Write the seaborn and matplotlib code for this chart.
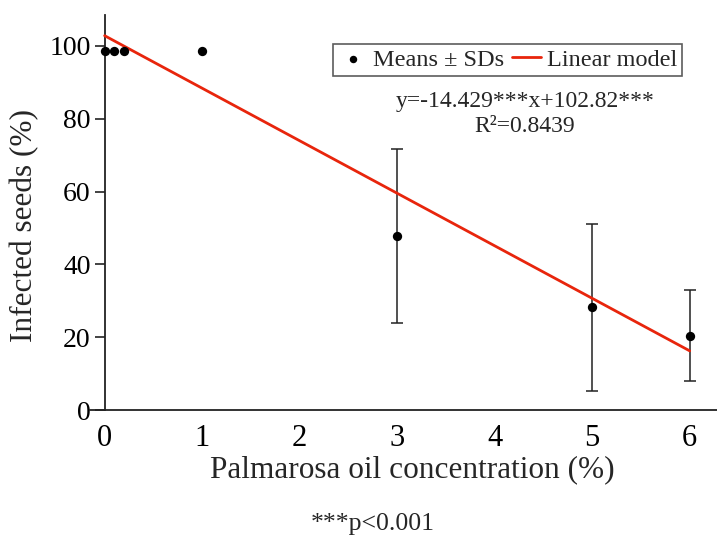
import matplotlib
matplotlib.use("Agg")
import matplotlib.pyplot as plt
import seaborn as sns
import numpy as np
import pandas as pd

# Data
concentration = [0, 0.1, 0.2, 1, 3, 5, 6]
infected_mean = [98.5, 98.5, 98.5, 98.5, 47.8, 28.2, 20.4]
infected_sd = [0, 0, 0, 0, 24.0, 23.0, 12.5]
slope = -14.429
intercept = 102.82
x_ticks = [0, 1, 2, 3, 4, 5, 6]
y_ticks = [0, 20, 40, 60, 80, 100]

sns.set_style("white")
plt.rcParams['font.family'] = ['Liberation Serif', 'DejaVu Serif']

df = pd.DataFrame({"x": concentration, "y": infected_mean, "sd": infected_sd})
fit_x = np.array([min(concentration), max(concentration)])
fit = pd.DataFrame({"x": fit_x, "y": slope * fit_x + intercept})
eb = df[df["sd"] > 0]

fig = plt.figure(figsize=(7.17, 5.37), dpi=100)
ax = fig.add_axes([90 / 717, 1 - 410 / 537, (717 - 90) / 717, (410 - 15) / 537])

ax.errorbar(eb["x"], eb["y"], yerr=eb["sd"], fmt="none", ecolor="#222222",
            elinewidth=1.1, capsize=4, capthick=1.1, zorder=2)
sns.lineplot(data=fit, x="x", y="y", color="#e8250c", linewidth=2, ax=ax,
             zorder=3, label="Linear model")
sns.scatterplot(data=df, x="x", y="y", color="black", s=45, ax=ax, zorder=4,
                edgecolor="black", linewidth=0, label="Means \u00b1 SDs")

ax.set_xlim(-0.15, 6.28)
ax.set_ylim(0, 108.5)
ax.spines['left'].set_position(('data', 0))
for s in ['top', 'right']:
    ax.spines[s].set_visible(False)
for s in ['left', 'bottom']:
    ax.spines[s].set_color('#222222')
    ax.spines[s].set_linewidth(1.3)

ax.set_xticks(x_ticks)
ax.set_yticks(y_ticks)
ax.tick_params(axis='x', length=0, labelsize=22, pad=10, colors='black')
ax.tick_params(axis='y', length=7, width=1.2, direction='out', left=True,
               labelsize=20, pad=3, color='#222222', labelcolor='black')

ax.set_xlabel("")
ax.set_ylabel("")
fig.text(412 / 717, 1 - 470 / 537, "Palmarosa oil concentration (%)",
         ha='center', va='center', fontsize=22.5)
fig.text(25 / 717, 1 - 226 / 537, "Infected seeds (%)", rotation=90,
         ha='center', va='center', fontsize=22.5)

handles, labels = ax.get_legend_handles_labels()
order = [labels.index("Means \u00b1 SDs"), labels.index("Linear model")]
leg = ax.legend([handles[i] for i in order], [labels[i] for i in order],
                ncol=2, loc='upper right',
                bbox_to_anchor=(682 / 717, 1 - 44 / 537),
                bbox_transform=fig.transFigure, fontsize=17.5,
                frameon=True, fancybox=False, edgecolor='#333333',
                handlelength=1.2, handletextpad=0.25, columnspacing=0.3,
                borderpad=0.2, borderaxespad=0, markerscale=0.8)
leg.get_frame().set_linewidth(1.2)

fig.text(525 / 717, 1 - 101 / 537, "y=-14.429***x+102.82***",
         ha='center', va='center', fontsize=17)
fig.text(525 / 717, 1 - 126 / 537, "R\u00b2=0.8439",
         ha='center', va='center', fontsize=17)
fig.text(373 / 717, 1 - 524 / 537, "***p<0.001",
         ha='center', va='center', fontsize=18.5)

fig.savefig("out.png", dpi=100)
